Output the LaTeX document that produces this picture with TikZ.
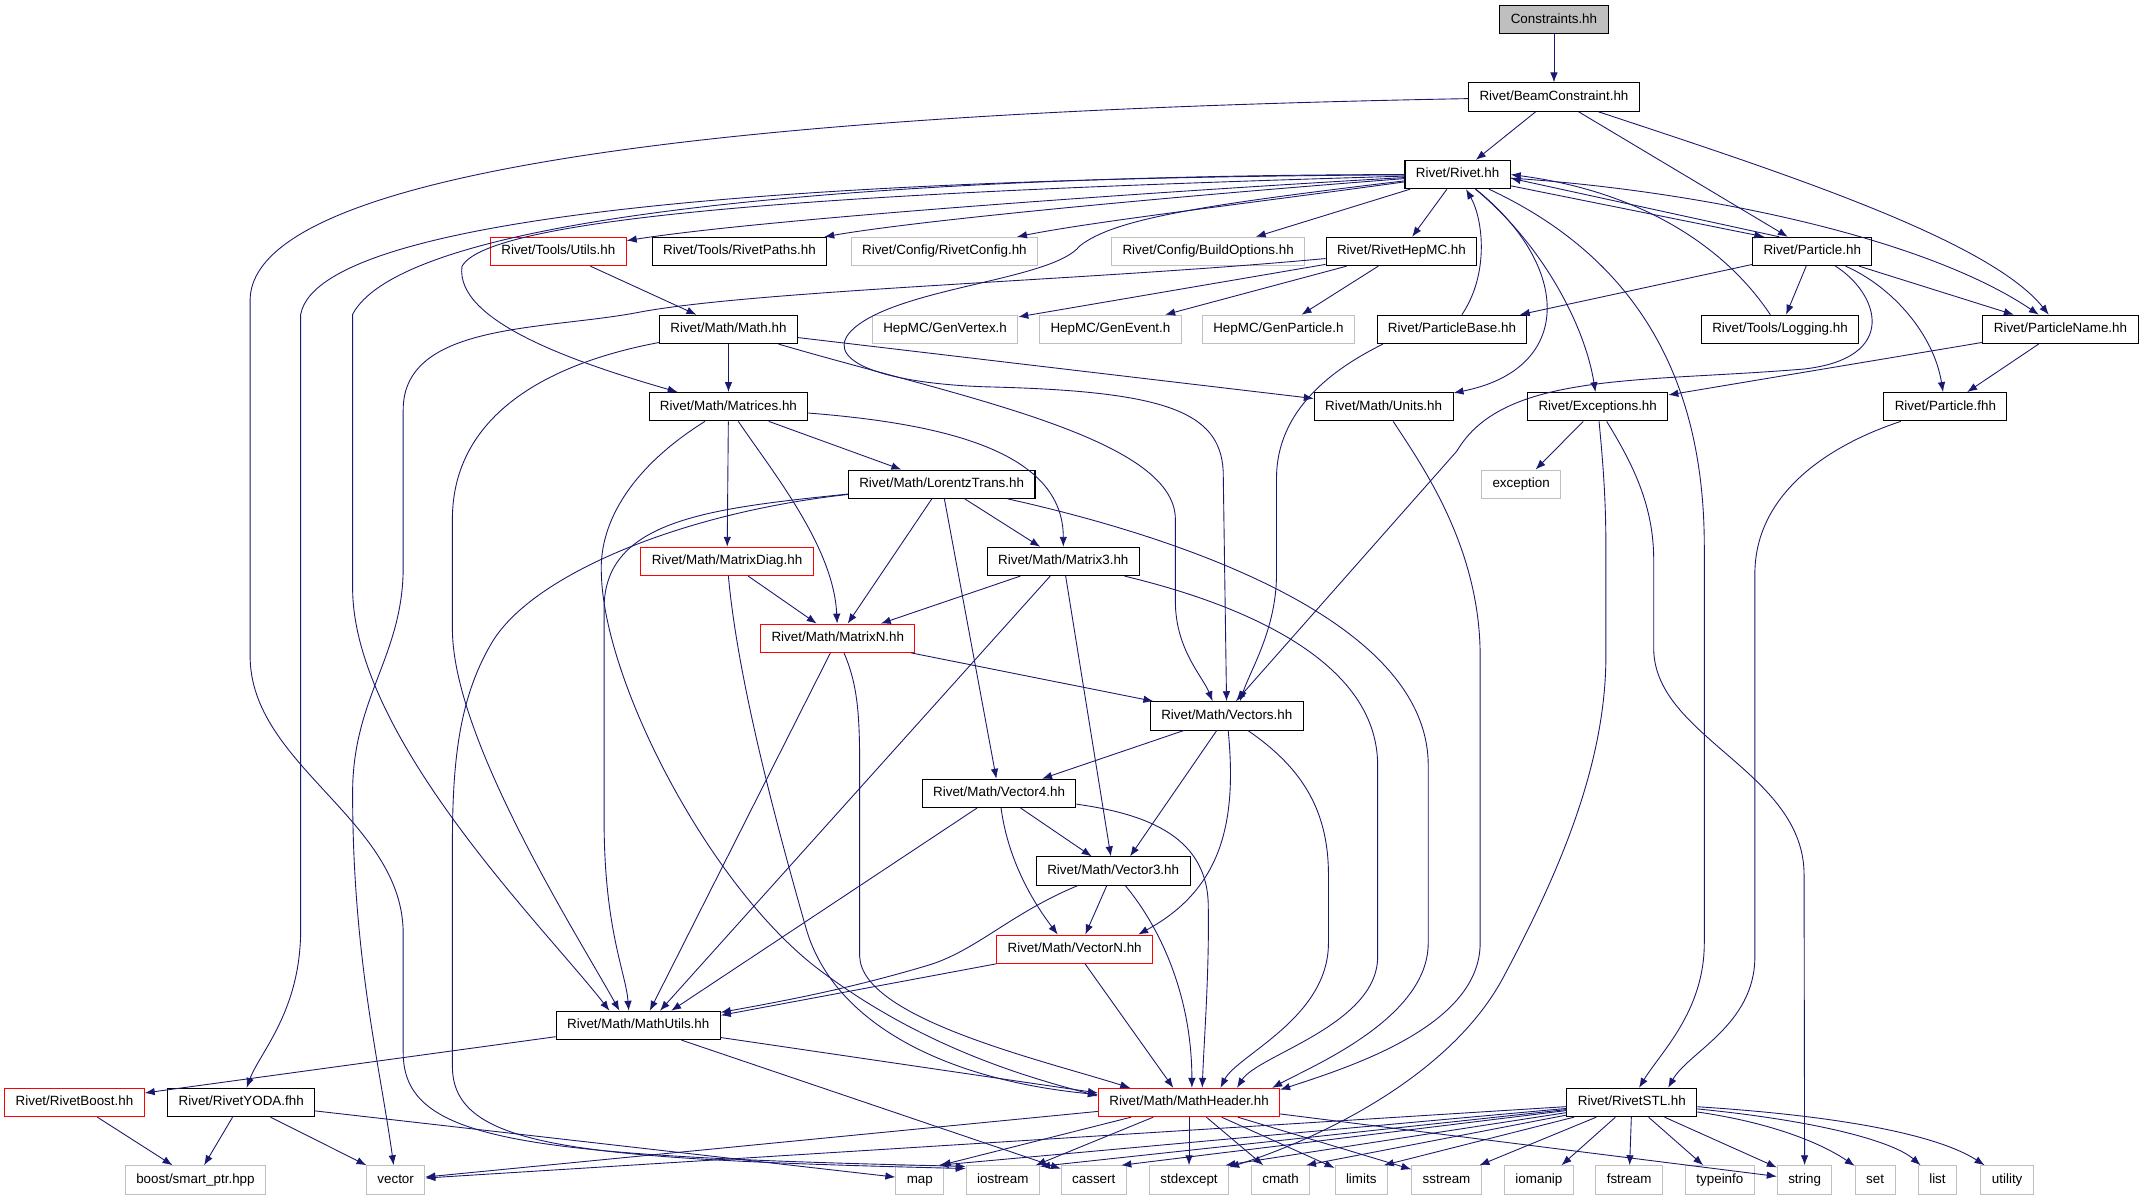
\documentclass[tikz,border=0pt]{standalone}
\usepackage{fontspec}
\setmainfont{Liberation Sans}
\usetikzlibrary{arrows.meta}
\definecolor{edgeblue}{HTML}{191970}
\definecolor{boxred}{HTML}{FF0000}
\definecolor{boxgrey}{HTML}{BFBFBF}
\tikzset{>={Latex[length=7.3pt,width=5.5pt]}}
\tikzset{
  hdr/.style={draw=black,line width=0.75pt,fill=white,minimum height=20.7pt,inner xsep=8pt,inner ysep=1pt,
    text height=7pt,text depth=2pt,font=\fontsize{9.8}{11}\selectfont},
  hdrred/.style={hdr,draw=boxred},
  hdrsys/.style={hdr,draw=boxgrey},
  hdrtop/.style={hdr,fill=boxgrey},
  incl/.style={->,draw=edgeblue,line width=0.65pt}
}

\begin{document}
\begin{tikzpicture}[x=1pt,y=-1pt]
  \useasboundingbox (0,0) rectangle (1568,878);
  % Files
  \node[hdrtop] (constraints) at (1137,14.5) {Constraints.hh};
  \node[hdr] (beam) at (1137,71) {Rivet/BeamConstraint.hh};
  \node[hdr] (rivet) at (1066.5,127.7) {Rivet/Rivet.hh};
  \node[hdrred] (utils) at (408.5,184) {Rivet/Tools/Utils.hh};
  \node[hdr] (paths) at (541,184) {Rivet/Tools/RivetPaths.hh};
  \node[hdrsys] (config) at (691,184) {Rivet/Config/RivetConfig.hh};
  \node[hdrsys] (buildopts) at (884,184) {Rivet/Config/BuildOptions.hh};
  \node[hdr] (hepmc) at (1025.4,184) {Rivet/RivetHepMC.hh};
  \node[hdr] (particle) at (1326,184) {Rivet/Particle.hh};
  \node[hdr] (math) at (533,241) {Rivet/Math/Math.hh};
  \node[hdrsys] (genvertex) at (691.5,241) {HepMC/GenVertex.h};
  \node[hdrsys] (genevent) at (812.5,241) {HepMC/GenEvent.h};
  \node[hdrsys] (genparticle) at (935.4,241) {HepMC/GenParticle.h};
  \node[hdr] (particlebase) at (1062.4,241) {Rivet/ParticleBase.hh};
  \node[hdr] (logging) at (1302.4,241) {Rivet/Tools/Logging.hh};
  \node[hdr] (particlename) at (1507.6,241) {Rivet/ParticleName.hh};
  \node[hdr] (matrices) at (533,297.6) {Rivet/Math/Matrices.hh};
  \node[hdr] (units) at (1012.4,297.6) {Rivet/Math/Units.hh};
  \node[hdr] (exceptions) at (1169,297.6) {Rivet/Exceptions.hh};
  \node[hdr] (particlefhh) at (1423.4,297.6) {Rivet/Particle.fhh};
  \node[hdr] (lorentz) at (689,354.3) {Rivet/Math/LorentzTrans.hh};
  \node[hdrsys] (exception) at (1113,354.3) {exception};
  \node[hdrred] (matrixdiag) at (532,410.8) {Rivet/Math/MatrixDiag.hh};
  \node[hdr] (matrix3) at (778,410.8) {Rivet/Math/Matrix3.hh};
  \node[hdrred] (matrixn) at (613,467) {Rivet/Math/MatrixN.hh};
  \node[hdr] (vectors) at (897.6,523.8) {Rivet/Math/Vectors.hh};
  \node[hdr] (vector4) at (731,580.5) {Rivet/Math/Vector4.hh};
  \node[hdr] (vector3) at (814.5,637.3) {Rivet/Math/Vector3.hh};
  \node[hdrred] (vectorn) at (786.3,694.5) {Rivet/Math/VectorN.hh};
  \node[hdr] (mathutils) at (467,750.3) {Rivet/Math/MathUtils.hh};
  \node[hdrred] (rivetboost) at (54.5,806.7) {Rivet/RivetBoost.hh};
  \node[hdr] (rivetyoda) at (176.5,806.7) {Rivet/RivetYODA.fhh};
  \node[hdrred] (mathheader) at (870,806.7) {Rivet/Math/MathHeader.hh};
  \node[hdr] (rivetstl) at (1194,806.7) {Rivet/RivetSTL.hh};
  \foreach \nm/\xx/\txt in {smartptr/143/{boost/smart\_ptr.hpp}, vector/289.5/vector, map/673/map,
      iostream/733.75/iostream, cassert/800.3/cassert, stdexcept/870/stdexcept, cmath/937/cmath,
      limits/996/limits, sstream/1058.4/sstream, iomanip/1126/iomanip, fstream/1192/fstream,
      typeinfo/1258.4/typeinfo, string/1320.4/string, set/1372/set, list/1417.6/list, utility/1468.6/utility}
    \node[hdrsys] (\nm) at (\xx,863.3) {\txt};

  % Lines
  \draw[incl] (constraints) -- (beam);
  \draw[incl] (beam) -- (rivet);
  \draw[incl] (beam) -- (particle);
  \draw[incl] (beam) .. controls (1300,125) and (1455,175) .. (particlename);
  \draw[incl] (beam) .. controls (650,80) and (183,110) .. (183,220) -- (183,480) .. controls (183,560) and (295,600) .. (295,683) -- (295,770) .. controls (295,835) and (380,846) .. (iostream.160);

  \draw[incl] (rivet) .. controls (650,130) and (235,150) .. (220,230) -- (220,680) .. controls (220,740) and (190,770) .. (rivetyoda);
  \draw[incl] (rivet) .. controls (700,128) and (300,150) .. (258,230) -- (258,430) .. controls (258,540) and (400,680) .. (mathutils.153);
  \draw[incl] (rivet) .. controls (720,138) and (360,152) .. (338,195) .. controls (333,235) and (420,265) .. (matrices);
  \draw[incl] (rivet) .. controls (850,140) and (560,160) .. (utils);
  \draw[incl] (rivet) .. controls (880,142) and (680,160) .. (paths);
  \draw[incl] (rivet) .. controls (920,148) and (800,162) .. (config);
  \draw[incl] (rivet) -- (buildopts);
  \draw[incl] (rivet) -- (hepmc);
  \draw[incl] (rivet) .. controls (880,150) and (815,160) .. (790,180) .. controls (770,205) and (660,210) .. (625,240) .. controls (600,262) and (640,280) .. (720,283) .. controls (850,286) and (893,300) .. (895,345) -- (vectors);
  \draw[incl] (rivet.348) -- (particle.163);
  \draw[incl] (rivet) .. controls (1250,140) and (1410,175) .. (particlename);
  \draw[incl] (rivet) .. controls (1150,195) and (1152,270) .. (units);
  \draw[incl] (rivet) .. controls (1130,180) and (1160,240) .. (exceptions);
  \draw[incl] (rivet) .. controls (1200,190) and (1247,280) .. (1247,400) -- (1247,690) .. controls (1247,740) and (1215,770) .. (rivetstl.64);

  \draw[incl] (hepmc) -- (genvertex);
  \draw[incl] (hepmc) -- (genevent);
  \draw[incl] (hepmc) -- (genparticle);
  \draw[incl] (hepmc) .. controls (800,205) and (560,212) .. (470,228) .. controls (400,242) and (295,235) .. (295,300) -- (295,415) .. controls (295,480) and (258,510) .. (258,580) .. controls (258,700) and (278,780) .. (vector);

  \draw[incl] (utils) -- (math);
  \draw[incl] (math) -- (matrices);
  \draw[incl] (math) -- (units);
  \draw[incl] (math) .. controls (700,290) and (860,320) .. (860,380) -- (860,440) .. controls (860,475) and (880,495) .. (vectors.134);
  \draw[incl] (math) .. controls (390,268) and (331,310) .. (331,380) -- (331,460) .. controls (331,540) and (420,680) .. (mathutils.142);

  \draw[incl] (particle.156) -- (rivet.356);
  \draw[incl] (particle) -- (particlebase);
  \draw[incl] (particle) -- (logging);
  \draw[incl] (particle) -- (particlename);
  \draw[incl] (particle) .. controls (1385,210) and (1415,245) .. (particlefhh);
  \draw[incl] (particle) .. controls (1375,215) and (1390,262) .. (1320,270) .. controls (1200,280) and (1100,272) .. (1066,330) -- (vectors.58);
  \draw[incl] (particlebase) .. controls (1090,200) and (1085,160) .. (rivet);
  \draw[incl] (particlebase.192) .. controls (975,270) and (934,300) .. (934,350) -- (934,420) .. controls (934,460) and (915,490) .. (vectors.48);
  \draw[incl] (logging) .. controls (1262,180) and (1200,140) .. (rivet.0);
  \draw[incl] (particlename) -- (particlefhh);
  \draw[incl] (particlename) -- (exceptions);
  \draw[incl] (particlefhh) .. controls (1340,325) and (1284,360) .. (1284,420) -- (1284,700) .. controls (1284,750) and (1235,770) .. (rivetstl.22);

  \draw[incl] (units) .. controls (1040,340) and (1083,400) .. (1083,480) -- (1083,690) .. controls (1083,750) and (990,780) .. (mathheader.8);
  \draw[incl] (exceptions) -- (exception);
  \draw[incl] (exceptions) .. controls (1172,330) and (1175,360) .. (1175,400) -- (1175,480) .. controls (1175,560) and (1140,640) .. (1100,715) .. controls (1060,790) and (960,835) .. (stdexcept);
  \draw[incl] (exceptions) .. controls (1195,340) and (1210,370) .. (1210,410) -- (1210,476) .. controls (1212,540) and (1320,565) .. (1320,640) -- (string);

  \draw[incl] (matrices) -- (lorentz);
  \draw[incl] (matrices) -- (matrixdiag);
  \draw[incl] (matrices) .. controls (565,345) and (610,400) .. (matrixn);
  \draw[incl] (matrices) .. controls (690,310) and (778,330) .. (matrix3);
  \draw[incl] (matrices) .. controls (465,340) and (438,380) .. (440,420) .. controls (442,500) and (520,650) .. (600,710) .. controls (680,770) and (760,790) .. (mathheader.176);
  \draw[incl] (lorentz) -- (matrixn);
  \draw[incl] (lorentz) -- (matrix3);
  \draw[incl] (lorentz) -- (vector4);
  \draw[incl] (lorentz) .. controls (850,390) and (1045,450) .. (1045,560) -- (1045,690) .. controls (1045,745) and (960,780) .. (mathheader.10);
  \draw[incl] (lorentz) .. controls (520,372) and (442,380) .. (442,445) -- (442,600) .. controls (442,680) and (458,712) .. (mathutils.123);
  \draw[incl] (lorentz) .. controls (500,375) and (390,420) .. (360,470) .. controls (335,512) and (331,560) .. (331,620) -- (331,780) .. controls (331,840) and (420,848) .. (iostream.163);
  \draw[incl] (matrixdiag) -- (matrixn);
  \draw[incl] (matrixdiag) .. controls (540,500) and (570,610) .. (590,680) .. controls (610,748) and (690,790) .. (mathheader.175);
  \draw[incl] (matrixn) -- (vectors);
  \draw[incl] (matrixn) -- (mathutils.52);
  \draw[incl] (matrixn) .. controls (627,500) and (629,520) .. (629,560) -- (629,700) .. controls (631,745) and (760,775) .. (mathheader.166);
  \draw[incl] (matrix3) -- (matrixn);
  \draw[incl] (matrix3) -- (vector3);
  \draw[incl] (matrix3) -- (mathutils.34);
  \draw[incl] (matrix3) .. controls (900,440) and (1008,480) .. (1008,560) -- (1008,700) .. controls (1008,750) and (920,772) .. (mathheader.17);

  \draw[incl] (vectors) -- (vector4);
  \draw[incl] (vectors) -- (vector3.41);
  \draw[incl] (vectors) .. controls (905,600) and (895,650) .. (vectorn.13);
  \draw[incl] (vectors) .. controls (950,560) and (972,590) .. (972,640) -- (972,690) .. controls (972,745) and (905,772) .. (mathheader.25);
  \draw[incl] (vector4) -- (vector3);
  \draw[incl] (vector4) .. controls (737,625) and (752,655) .. (vectorn.139);
  \draw[incl] (vector4) -- (mathutils.24);
  \draw[incl] (vector4) .. controls (835,595) and (882,610) .. (884,660) .. controls (885,710) and (881,760) .. (mathheader.48);
  \draw[incl] (vector3) -- (vectorn.54);
  \draw[incl] (vector3) .. controls (740,668) and (715,695) .. (680,706) .. controls (620,724) and (570,733) .. (mathutils.9);
  \draw[incl] (vector3) .. controls (850,680) and (872,730) .. (mathheader.79);
  \draw[incl] (vectorn) -- (mathutils.7);
  \draw[incl] (vectorn) -- (mathheader.137);

  \draw[incl] (mathutils) -- (rivetboost);
  \draw[incl] (mathutils) -- (mathheader.174);
  \draw[incl] (mathutils) -- (cassert);
  \draw[incl] (mathheader) -- (vector);
  \draw[incl] (mathheader) -- (map.35);
  \draw[incl] (mathheader) -- (iostream.24);
  \draw[incl] (mathheader) -- (stdexcept);
  \draw[incl] (mathheader) -- (cmath);
  \draw[incl] (mathheader) -- (limits);
  \draw[incl] (mathheader) -- (sstream);
  \draw[incl] (mathheader) -- (string);

  \draw[incl] (rivetstl) -- (vector);
  \draw[incl] (rivetstl) -- (map.38);
  \draw[incl] (rivetstl) -- (iostream.20);
  \draw[incl] (rivetstl) -- (cassert.28);
  \draw[incl] (rivetstl) -- (stdexcept.22);
  \draw[incl] (rivetstl) -- (cmath.30);
  \draw[incl] (rivetstl) -- (limits.33);
  \draw[incl] (rivetstl) -- (sstream.24);
  \draw[incl] (rivetstl) -- (iomanip.33);
  \draw[incl] (rivetstl) -- (fstream);
  \draw[incl] (rivetstl) -- (typeinfo);
  \draw[incl] (rivetstl) -- (string);
  \draw[incl] (rivetstl) .. controls (1300,822) and (1335,838) .. (set);
  \draw[incl] (rivetstl) .. controls (1330,820) and (1385,835) .. (list);
  \draw[incl] (rivetstl) .. controls (1370,818) and (1425,835) .. (utility);

  \draw[incl] (rivetyoda) -- (smartptr);
  \draw[incl] (rivetyoda) -- (vector);
  \draw[incl] (rivetyoda) -- (map);
  \draw[incl] (rivetboost) -- (smartptr);
\end{tikzpicture}
\end{document}
